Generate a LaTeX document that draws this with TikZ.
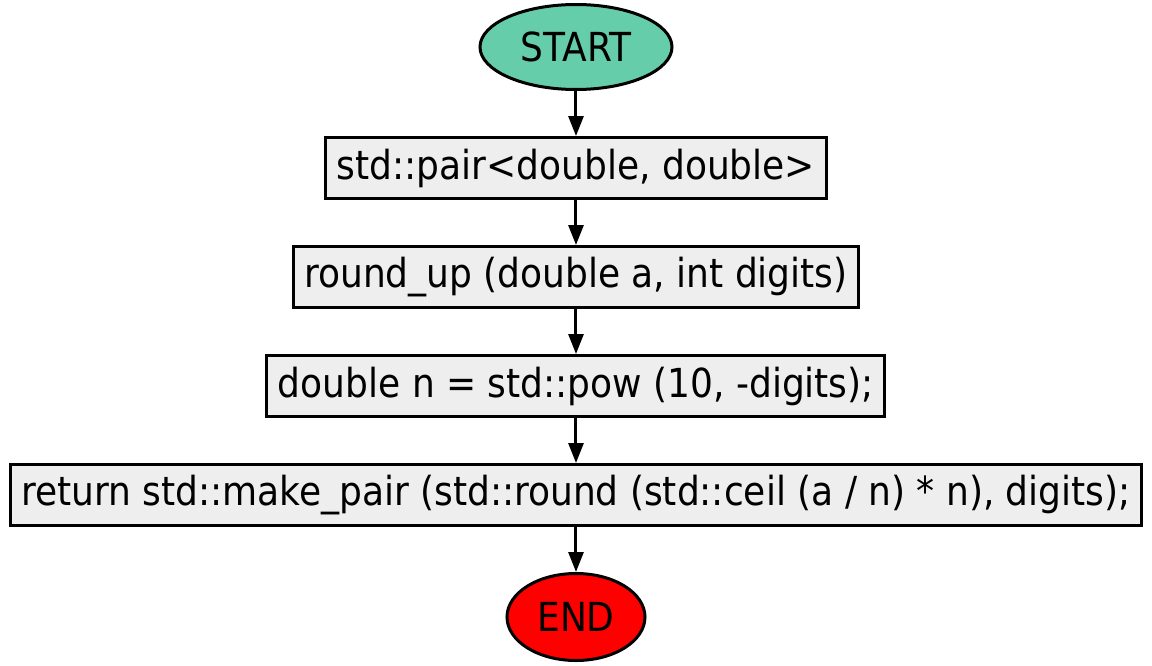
\documentclass[tikz,border=0pt]{standalone}
\usepackage{fontspec}
\setmainfont{DejaVu Sans Condensed}
\usepackage{xcolor}
\definecolor{startgreen}{RGB}{102,205,170}
\definecolor{boxgray}{RGB}{238,238,238}
\usepackage{tikz}
\usetikzlibrary{shapes.geometric, arrows.meta, positioning}

\begin{document}
\begin{tikzpicture}[
    node distance=22.5pt,
    terminal/.style={ellipse, draw=black, line width=1.5pt, inner sep=0pt, font=\fontsize{20}{24}\selectfont},
    box/.style={rectangle, draw=black, fill=boxgray, line width=1.5pt, minimum height=30.5pt, inner xsep=5.5pt, font=\fontsize{20}{24}\selectfont},
    arrow/.style={-{Triangle[length=10pt, width=7.5pt]}, line width=1.5pt, black}
]
\useasboundingbox (-288pt,23.5pt) rectangle (288pt,-309pt);
\node[terminal, fill=startgreen, minimum width=96pt, minimum height=42.5pt] (start) at (0,0) {START};
\node[box, below=of start] (pair) {std::pair<double, double>};
\node[box, below=of pair] (roundup) {round\_up (double a, int digits)};
\node[box, below=of roundup] (pow) {double n = std::pow (10, -digits);};
\node[box, below=of pow] (ret) {return std::make\_pair (std::round (std::ceil (a / n) * n), digits);};
\node[terminal, fill=red, minimum width=69pt, minimum height=43.5pt, below=of ret] (stop) {END};

\draw[arrow] (start) -- (pair);
\draw[arrow] (pair) -- (roundup);
\draw[arrow] (roundup) -- (pow);
\draw[arrow] (pow) -- (ret);
\draw[arrow] (ret) -- (stop);
\end{tikzpicture}
\end{document}
